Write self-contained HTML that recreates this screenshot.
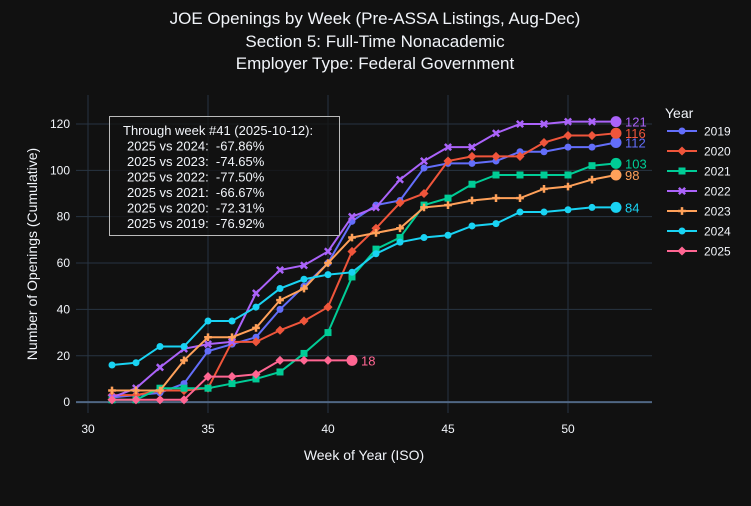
<!DOCTYPE html>
<html><head><meta charset="utf-8"><style>
body{margin:0;background:#111111;}
svg text{font-family:"Liberation Sans","DejaVu Sans",sans-serif;fill:#f2f5fa;}
</style></head><body>
<svg id="chart" width="751" height="501" xmlns="http://www.w3.org/2000/svg">
<rect width="751" height="501" fill="#111111"/>
<g id="grid"></g>
<g id="series"></g>
<g id="ticks"></g>
<text x="375" y="24" text-anchor="middle" font-size="17">JOE Openings by Week (Pre-ASSA Listings, Aug-Dec)</text>
<text x="375" y="47" text-anchor="middle" font-size="17">Section 5: Full-Time Nonacademic</text>
<text x="375" y="69" text-anchor="middle" font-size="17">Employer Type: Federal Government</text>
<text x="364" y="460" text-anchor="middle" font-size="14">Week of Year (ISO)</text>
<text transform="translate(37,254) rotate(-90)" text-anchor="middle" font-size="14">Number of Openings (Cumulative)</text>
<g>
<rect x="109.5" y="116.5" width="230" height="119" fill="rgba(17,17,17,0.75)" stroke="#bbbbbb" stroke-width="1"/>
<text x="123" y="135" font-size="13">Through week #41 (2025-10-12):</text>
<text x="127" y="150.5" font-size="13">2025 vs 2024:&#160; -67.86%</text>
<text x="127" y="166" font-size="13">2025 vs 2023:&#160; -74.65%</text>
<text x="127" y="181.5" font-size="13">2025 vs 2022:&#160; -77.50%</text>
<text x="127" y="197" font-size="13">2025 vs 2021:&#160; -66.67%</text>
<text x="127" y="212.5" font-size="13">2025 vs 2020:&#160; -72.31%</text>
<text x="127" y="228" font-size="13">2025 vs 2019:&#160; -76.92%</text>
</g>
<g id="legend">
<text x="665" y="118" font-size="14">Year</text>
</g>
</svg>
<script>
const years = ["2019","2020","2021","2022","2023","2024","2025"];
const weeks = [31,32,33,34,35,36,37,38,39,40,41,42,43,44,45,46,47,48,49,50,51,52];
const v2019 = [2,3,4,8,22,25,28,40,50,60,78,85,87,101,103,103,104,108,108,110,110,112];
const v2020 = [3,3,5,5,6,26,26,31,35,41,65,75,86,90,104,106,106,106,112,115,115,116];
const v2021 = [1,1,6,6,6,8,10,13,21,30,54,66,71,85,88,94,98,98,98,98,102,103];
const v2022 = [2,6,15,23,25,26,47,57,59,65,80,84,96,104,110,110,116,120,120,121,121,121];
const v2023 = [5,5,5,18,28,28,32,44,49,60,71,73,75,84,85,87,88,88,92,93,96,98];
const v2024 = [16,17,24,24,35,35,41,49,53,55,56,64,69,71,72,76,77,82,82,83,84,84];
const v2025 = [1,1,1,1,11,11,12,18,18,18,18];
const xTicks = [30,35,40,45,50];
const yTicks = [0,20,40,60,80,100,120];
const colors = ["#636efa","#EF553B","#00cc96","#ab63fa","#FFA15A","#19d3f3","#FF6692"];
const symbols = ["circle","diamond","square","x","cross","circle","diamond"];
const values = [v2019,v2020,v2021,v2022,v2023,v2024,v2025];
const NS="http://www.w3.org/2000/svg";
const X0=76,X1=652,Y0=413,Y1=95,xmin=29.5,xmax=53.5,ymin=-4.7,ymax=132.5;
function xs(v){return X0+(v-xmin)/(xmax-xmin)*(X1-X0);}
function ys(v){return Y0-(v-ymin)/(ymax-ymin)*(Y0-Y1);}
function mk(tag,attrs,parent){const e=document.createElementNS(NS,tag);for(const k in attrs)e.setAttribute(k,attrs[k]);parent.appendChild(e);return e;}
const grid=document.getElementById('grid'),ticks=document.getElementById('ticks'),ser=document.getElementById('series'),leg=document.getElementById('legend');
xTicks.forEach(t=>{
  const l=mk('line',{x1:xs(t),x2:xs(t),y1:Y1,y2:Y0,stroke:'#283442','stroke-width':1},grid);
  
  
  const tx=mk('text',{x:xs(t),y:Y0+20,'text-anchor':'middle','font-size':12},ticks);tx.textContent=t;
  
  
});
yTicks.forEach(t=>{
  const l=mk('line',{x1:X0,x2:X1,y1:ys(t),y2:ys(t),stroke:t===0?'#506784':'#283442','stroke-width':t===0?2:1},grid);
  
  
  const tx=mk('text',{x:X0-6,y:ys(t)+4,'text-anchor':'end','font-size':12},ticks);tx.textContent=t;
  
  
});
function marker(sym,x,y,c,r,g){
  let e;
  if(sym==='circle'){e=mk('circle',{cx:x,cy:y,r:r,fill:c},g);}
  else if(sym==='square'){e=mk('rect',{x:x-r,y:y-r,width:2*r,height:2*r,fill:c},g);}
  else if(sym==='diamond'){const d=r*1.3;e=mk('polygon',{points:`${x},${y-d} ${x+d},${y} ${x},${y+d} ${x-d},${y}`,fill:c},g);}
  else if(sym==='x'){const d=r*0.9;e=mk('path',{d:`M${x-d},${y-d}L${x+d},${y+d}M${x-d},${y+d}L${x+d},${y-d}`,stroke:c,'stroke-width':2.5},g);}
  else {const d=r*1.1;e=mk('path',{d:`M${x-d},${y}L${x+d},${y}M${x},${y-d}L${x},${y+d}`,stroke:c,'stroke-width':2.5},g);}
  
  
}
years.forEach((yr,i)=>{
  const g=mk('g',{},ser);
  
  
  const vals=values[i];
  const pts=vals.map((v,j)=>xs(weeks[j])+','+ys(v)).join(' ');
  const pl=mk('polyline',{points:pts,fill:'none',stroke:colors[i],'stroke-width':2},g);
  
  
  vals.forEach((v,j)=>{ if(j<vals.length-1) marker(symbols[i],xs(weeks[j]),ys(v),colors[i],3.5,g); });
  const last=vals.length-1;
  const ec=mk('circle',{cx:xs(weeks[last]),cy:ys(vals[last]),r:5.5,fill:colors[i]},g);
  
  
  const lbl=mk('text',{x:xs(weeks[last])+9,y:ys(vals[last])+5,'font-size':13,style:'fill:'+colors[i]},g);
  lbl.textContent=vals[last];
  
  
  const ly=131+i*20;
  const lg=mk('g',{},leg);
  
  
  mk('line',{x1:667,x2:697,y1:ly,y2:ly,stroke:colors[i],'stroke-width':2},lg);
  marker(symbols[i],682,ly,colors[i],3.5,lg);
  const lt=mk('text',{x:704,y:ly+4.5,'font-size':12},lg);lt.textContent=yr;
});
</script>
</body></html>
